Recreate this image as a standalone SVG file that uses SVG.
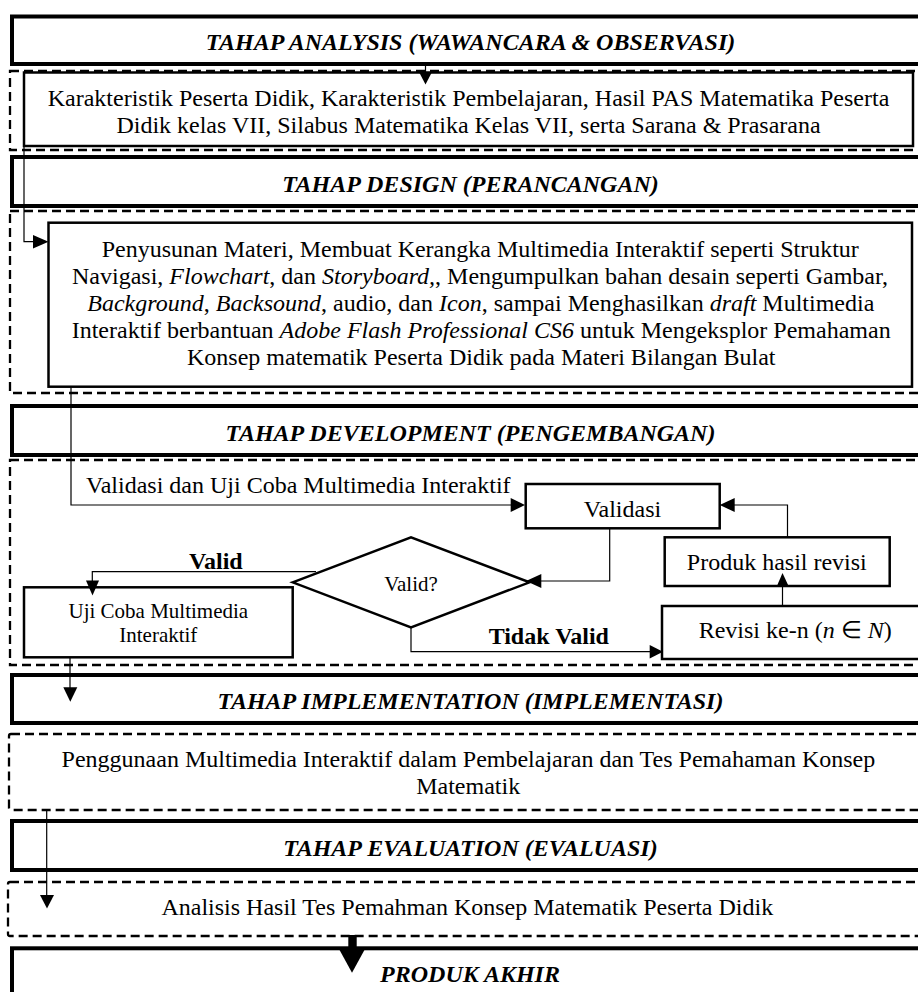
<svg xmlns="http://www.w3.org/2000/svg" width="918" height="992" viewBox="0 0 918 992">
<style>
text{font-family:"Liberation Serif","Times New Roman",serif;fill:#000}
.t{font-size:24px}
.s{font-size:21px}
.h{font-size:24px;font-weight:bold;font-style:italic}
.b{font-size:24px;font-weight:bold}
.i{font-style:italic}
.hdr{fill:#fff;stroke:#000;stroke-width:4}
.dash{fill:none;stroke:#000;stroke-width:2.3;stroke-dasharray:9 5}
.box{fill:#fff;stroke:#000;stroke-width:2.5}
.ln{fill:none;stroke:#000;stroke-width:1.2}
.ah{fill:#000;stroke:none}
</style>
<rect width="918" height="992" fill="#fff"/>

<g id="analysis-header">
<rect class="hdr" x="12" y="16.5" width="930" height="47.5"/>
<text class="h" x="470.5" y="50" text-anchor="middle">TAHAP ANALYSIS (WAWANCARA &amp; OBSERVASI)</text>
</g>
<g id="analysis-area">
<rect class="dash" x="10" y="71" width="930" height="79"/>
<rect class="box" x="24" y="72.5" width="889" height="73.5"/>
<text class="t" x="468.5" y="106" text-anchor="middle">Karakteristik Peserta Didik, Karakteristik Pembelajaran, Hasil PAS Matematika Peserta</text>
<text class="t" x="468.5" y="133" text-anchor="middle">Didik kelas VII, Silabus Matematika Kelas VII, serta Sarana &amp; Prasarana</text>
</g>

<g id="design-header">
<rect class="hdr" x="12" y="157" width="930" height="49"/>
<text class="h" x="470.5" y="192" text-anchor="middle">TAHAP DESIGN (PERANCANGAN)</text>
</g>
<g id="design-area">
<rect class="dash" x="10" y="211" width="930" height="182"/>
<rect class="box" x="48.5" y="222.7" width="863.5" height="164"/>
<text class="t" x="101.7" y="257">Penyusunan Materi, Membuat Kerangka Multimedia Interaktif seperti Struktur</text>
<text class="t" x="72" y="284">Navigasi, <tspan class="i">Flowchart</tspan>, dan <tspan class="i">Storyboard,</tspan>, Mengumpulkan bahan desain seperti Gambar,</text>
<text class="t" x="87.3" y="311"><tspan class="i">Background</tspan>, <tspan class="i">Backsound</tspan>, audio, dan <tspan class="i">Icon</tspan>, sampai Menghasilkan <tspan class="i">draft</tspan> Multimedia</text>
<text class="t" x="71.7" y="338">Interaktif berbantuan <tspan class="i">Adobe Flash Professional CS6</tspan> untuk Mengeksplor Pemahaman</text>
<text class="t" x="187" y="365">Konsep matematik Peserta Didik pada Materi Bilangan Bulat</text>
</g>

<g id="development-header">
<rect class="hdr" x="12" y="406" width="930" height="49"/>
<text class="h" x="470.5" y="441" text-anchor="middle">TAHAP DEVELOPMENT (PENGEMBANGAN)</text>
</g>
<g id="development-area">
<rect class="dash" x="10" y="460" width="930" height="205"/>
</g>
<g id="validasi">
<rect class="box" x="525.7" y="484" width="194" height="44.3"/>
<text class="t" x="622.5" y="516.5" text-anchor="middle">Validasi</text>
</g>
<g id="valid-decision">
<polygon points="292.7,582.3 411,537.3 529.5,582.3 411,627.3" fill="#fff" stroke="#000" stroke-width="2.5"/>
<text class="s" x="411" y="591" text-anchor="middle">Valid?</text>
</g>
<g id="uji-coba">
<rect class="box" x="24" y="587.3" width="268.7" height="70"/>
<text class="s" x="158.3" y="618" text-anchor="middle">Uji Coba Multimedia</text>
<text class="s" x="158.3" y="641.7" text-anchor="middle">Interaktif</text>
</g>
<g id="produk-revisi">
<rect class="box" x="664.7" y="537.3" width="225" height="48.7"/>
<text class="t" x="776.8" y="570" text-anchor="middle">Produk hasil revisi</text>
</g>
<g id="revisi">
<rect class="box" x="662" y="606" width="300" height="53"/>
<text class="t" x="698.7" y="638.3">Revisi ke-n (<tspan class="i">n</tspan> ∈ <tspan class="i">N</tspan>)</text>
</g>

<g id="implementation-header">
<rect class="hdr" x="12" y="675" width="930" height="48"/>
<text class="h" x="470.5" y="709" text-anchor="middle">TAHAP IMPLEMENTATION (IMPLEMENTASI)</text>
</g>
<g id="implementation-area">
<rect class="dash" x="9" y="734" width="930" height="76" rx="2"/>
<text class="t" x="468.4" y="767.3" text-anchor="middle">Penggunaan Multimedia Interaktif dalam Pembelajaran dan Tes Pemahaman Konsep</text>
<text class="t" x="468.2" y="794" text-anchor="middle">Matematik</text>
</g>

<g id="evaluation-header">
<rect class="hdr" x="12" y="821" width="930" height="49"/>
<text class="h" x="470.5" y="856" text-anchor="middle">TAHAP EVALUATION (EVALUASI)</text>
</g>
<g id="evaluation-area">
<rect class="dash" x="8" y="882" width="930" height="54" rx="2"/>
<text class="t" x="467.3" y="915" text-anchor="middle">Analisis Hasil Tes Pemahman Konsep Matematik Peserta Didik</text>
</g>

<g id="produk-akhir">
<rect class="hdr" x="12" y="948.3" width="930" height="60"/>
<text class="h" x="470" y="981.7" text-anchor="middle">PRODUK AKHIR</text>
</g>

<g id="connectors">
<!-- analysis header to analysis box -->
<line class="ln" x1="425.5" y1="62" x2="425.5" y2="73"/>
<polygon class="ah" points="419,72 432,72 425.5,84.5"/>
<!-- analysis to design -->
<polyline class="ln" points="24,146 24,241.7 34,241.7"/>
<polygon class="ah" points="33,235 33,248.5 48.5,241.7"/>
<!-- design to validasi -->
<polyline class="ln" points="71,386.7 71,505 511,505"/>
<polygon class="ah" points="510.7,498 510.7,512 525,505"/>
<text class="t" x="86" y="493.3">Validasi dan Uji Coba Multimedia Interaktif</text>
<!-- validasi to decision -->
<polyline class="ln" points="609.7,528.3 609.7,581 541,581"/>
<polygon class="ah" points="541.3,574 541.3,588 526,581"/>
<!-- valid -->
<polyline class="ln" points="316,571.7 92.3,571.7 92.3,581"/>
<polygon class="ah" points="86,580.5 99,580.5 92.5,595.5"/>
<text class="b" x="215.8" y="569.3" text-anchor="middle">Valid</text>
<!-- tidak valid -->
<polyline class="ln" points="411,627.3 411,651.7 650,651.7"/>
<polygon class="ah" points="649.7,645 649.7,658.5 663,651.7"/>
<text class="b" x="548.8" y="644" text-anchor="middle">Tidak Valid</text>
<!-- revisi to produk -->
<line class="ln" x1="782.5" y1="606" x2="782.5" y2="587"/>
<polygon class="ah" points="776.5,587 789,587 782.5,573"/>
<!-- produk to validasi -->
<polyline class="ln" points="787.5,537.3 787.5,505 734,505"/>
<polygon class="ah" points="734.7,498 734.7,512 719.7,505"/>
<!-- uji coba to implementation -->
<line class="ln" x1="70" y1="657.3" x2="70" y2="688"/>
<polygon class="ah" points="63.3,687.3 77.3,687.3 70.3,701.7"/>
<!-- implementation to evaluation -->
<line class="ln" x1="46.7" y1="810" x2="46.7" y2="896"/>
<polygon class="ah" points="40,895 54,895 47,908.5"/>
<!-- evaluation to produk akhir -->
<rect class="ah" x="348.3" y="935" width="8.4" height="15"/>
<polygon class="ah" points="339,949 365,949 352,972.7"/>
</g>
</svg>
